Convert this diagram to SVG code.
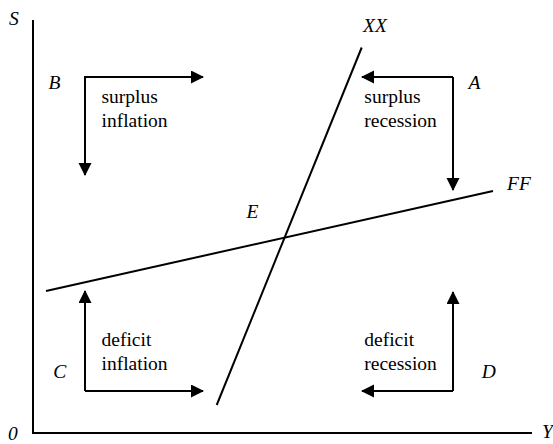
<svg xmlns="http://www.w3.org/2000/svg" width="553" height="444" viewBox="0 0 553 444">
<style>
.ln{stroke:#000;stroke-width:2;fill:none}
.ar{stroke:#000;stroke-width:2;fill:none;marker-end:url(#ah)}
.i{font-style:italic}
</style>
<defs>
<marker id="ah" markerUnits="userSpaceOnUse" markerWidth="14" markerHeight="14" refX="12" refY="6.5" orient="auto">
<path d="M0,0 L13,6.5 L0,13 Z" fill="#000"/>
</marker>
</defs>
<rect width="553" height="444" fill="#fff"/>
<g font-family="Liberation Serif, DejaVu Serif, serif" font-size="19.5" fill="#000">
<g id="axes">
<path class="ln" d="M33,20 V433 H532"/>
<text class="i" x="9" y="25">S</text>
<text class="i" x="8" y="440">0</text>
<text class="i" x="542" y="438">Y</text>
</g>
<g id="connectors">
<line class="ln" x1="216.7" y1="405" x2="361.7" y2="47.5"/>
<line class="ln" x1="46" y1="291" x2="493" y2="191"/>
<path class="ar" d="M85,175 V77 H203"/>
<path class="ar" d="M85,77 V175"/>
<path class="ar" d="M453,77 H362"/>
<path class="ar" d="M453,77 V190"/>
<path class="ar" d="M85,391 V291"/>
<path class="ar" d="M85,391 H203"/>
<path class="ar" d="M453,391 V292"/>
<path class="ar" d="M453,391 H362"/>
</g>
<g id="XX"><text class="i" x="363" y="31.5">XX</text></g>
<g id="FF"><text class="i" x="507" y="190">FF</text></g>
<g id="E"><text class="i" x="246.5" y="218">E</text></g>
<g id="B">
<text class="i" x="48.5" y="89.3">B</text>
<text x="101.5" y="103.3">surplus</text>
<text x="101.5" y="126.7">inflation</text>
</g>
<g id="A">
<text class="i" x="468.5" y="89.3">A</text>
<text x="364.3" y="103.3">surplus</text>
<text x="364.3" y="126.7">recession</text>
</g>
<g id="C">
<text class="i" x="53.3" y="378">C</text>
<text x="101.5" y="346">deficit</text>
<text x="101.5" y="370">inflation</text>
</g>
<g id="D">
<text class="i" x="481.7" y="378.3">D</text>
<text x="364.3" y="346">deficit</text>
<text x="364.3" y="370">recession</text>
</g>
</g>
</svg>
